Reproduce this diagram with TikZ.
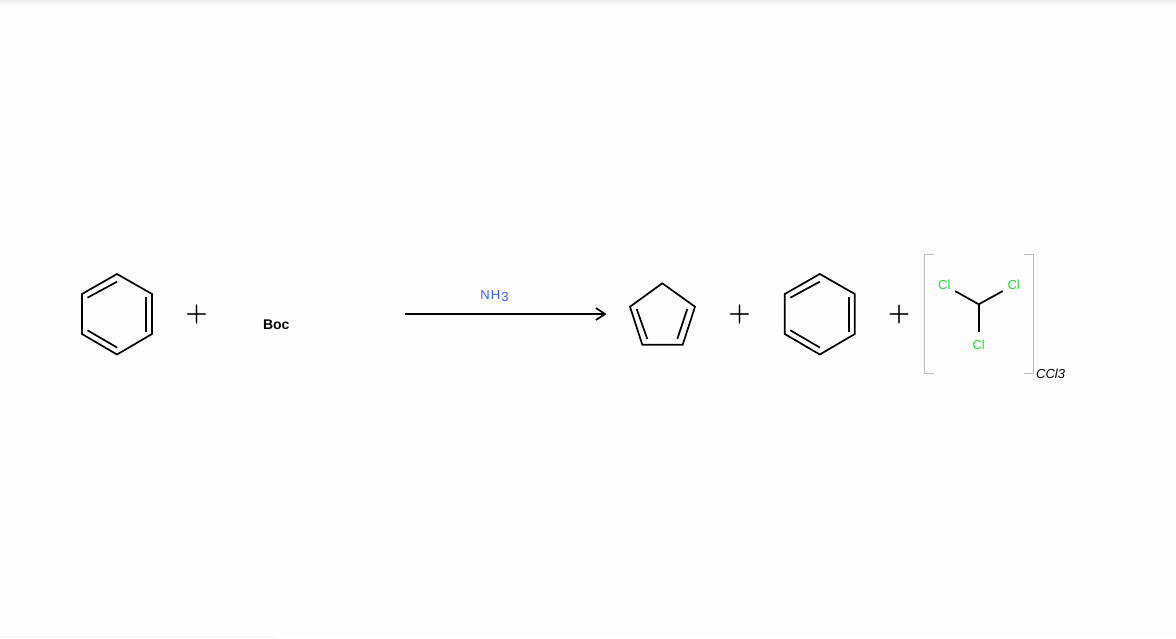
\documentclass[tikz,border=0pt]{standalone}
\usepackage{fontspec}
\setmainfont{Liberation Sans}
\newfontfamily\plusfont[FakeBold=1.5]{Latin Modern Roman}
\usetikzlibrary{positioning, arrows.meta, calc}
\definecolor{pagebg}{HTML}{FDFDFD}
\definecolor{topbar}{HTML}{EBEBEE}
\definecolor{footbar}{HTML}{F8F8F8}
\definecolor{reagentblue}{HTML}{3B5BFF}
\definecolor{clgreen}{HTML}{22DD33}
\definecolor{brackgray}{HTML}{BBBBBB}

\begin{document}
\begin{tikzpicture}[
  x=1pt, y=-1pt,
  bond/.style={line width=1.7pt, color=black, line join=miter},
  plussign/.style={font=\fontsize{29.5}{30}\selectfont\plusfont, inner sep=0pt},
  bocl/.style={font=\fontsize{14}{16}\selectfont\bfseries, inner sep=0pt},
  reagent/.style={font=\fontsize{13}{15}\selectfont, text=reagentblue, inner sep=1pt},
  cl/.style={circle, minimum size=24.5pt, inner sep=0pt, text=clgreen,
             font=\fontsize{13}{15}\selectfont},
  brack/.style={line width=1pt, color=brackgray},
  arr/.style={-{Straight Barb[length=9pt, width=12pt, line width=1.7pt]}, line width=1.7pt},
  tag/.style={font=\fontsize{13}{15}\selectfont\itshape, inner sep=0pt, anchor=west},
]

% page background
\fill[pagebg] (0,0) rectangle (1176,638);
\shade[top color=topbar, bottom color=pagebg] (0,0) rectangle (1176,5);
\fill[footbar] (0,636) rectangle (277,638);

% benzene rings
\foreach \cx/\nm in {117/ba, 819.8/bb} {
  \coordinate (\nm1) at (\cx,274);
  \coordinate (\nm2) at (\cx+35,294);
  \coordinate (\nm3) at (\cx+35,334);
  \coordinate (\nm4) at (\cx,354.5);
  \coordinate (\nm5) at (\cx-35,334);
  \coordinate (\nm6) at (\cx-35,294);
  \draw[bond] (\nm1) -- (\nm2) -- (\nm3) -- (\nm4) -- (\nm5) -- (\nm6) -- cycle;
  \draw[bond] (\cx-29.5,297.7) -- (\cx,281.7);
  \draw[bond] (\cx+29,296.7) -- (\cx+29,331.7);
  \draw[bond] (\cx-29.5,330.3) -- (\cx,347.5);
}

% plus signs
\node[plussign] (p1) at (196.5,314) {+};
\node[plussign] (p2) at (739.5,314) {+};
\node[plussign] (p3) at (899,314) {+};

% Boc
\node[bocl] (boc) at (276.3,324.3) {Boc};

% reaction arrow
\coordinate (arrL) at (404.5,314);
\coordinate (arrR) at (606.5,314);
\draw[arr] (arrL) -- (arrR);
\node[reagent] (nh3) at (494.5,296) {N\kern1.2pt H\kern1.2pt\raisebox{-1.5pt}{3}};

% cyclopentadiene
\coordinate (c1) at (662.3,283.3);
\coordinate (c2) at (695,306.7);
\coordinate (c3) at (682.7,344.7);
\coordinate (c4) at (642.3,344.7);
\coordinate (c5) at (630,306.7);
\draw[bond] (c1) -- (c2) -- (c3) -- (c4) -- (c5) -- cycle;
\draw[bond] (636.7,309) -- (647.3,339);
\draw[bond] (687.3,309) -- (677.3,339);

% CCl3 with brackets
\coordinate (cc) at (978.7,304.3);
\node[cl] (cla) at (944.3,285) {Cl};
\node[cl] (clb) at (1013.7,285) {Cl};
\node[cl] (clc) at (978.7,344.8) {Cl};
\draw[bond] (cc) -- (cla);
\draw[bond] (cc) -- (clb);
\draw[bond] (cc) -- (clc);
\draw[brack] (934,254.5) -- (924.5,254.5) -- (924.5,373.5) -- (934,373.5);
\draw[brack] (1024,254.5) -- (1033.5,254.5) -- (1033.5,373.5) -- (1024,373.5);
\node[tag] (ccl3) at (1036,373.5) {CCl3};

\end{tikzpicture}
\end{document}
